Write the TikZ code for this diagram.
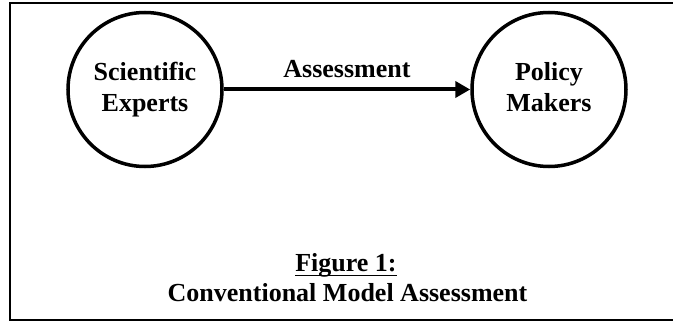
\documentclass[tikz,border=0pt]{standalone}
\usepackage{fontspec}
\setmainfont{Liberation Serif}
\usetikzlibrary{arrows.meta}
\begin{document}
\begin{tikzpicture}[x=1pt,y=-1pt,
  lbl/.style={font={\bfseries\fontsize{26}{31}\selectfont}},
  actor/.style={circle, draw, line width=3.5pt, minimum size=154pt, inner sep=0pt, align=center, lbl},
  flow/.style={line width=4pt, -{Triangle[length=15pt,width=16pt]}}]
\useasboundingbox (0,0) rectangle (673,321);
\fill[white] (0,0) rectangle (673,321);
\draw[line width=2pt] (10,3.5) rectangle (690,320);
\node[actor] (se) at (145,89.5) {Scientific\\Experts};
\node[actor] (pm) at (549,89.5) {Policy\\Makers\vphantom{p}};
\draw[flow] (se.east) -- (pm.west);
\node[lbl, anchor=base, inner sep=0pt] (as) at (347,78) {Assessment};
\node[lbl, anchor=base, inner sep=0pt] (fig) at (346,271) {Figure 1:};
\draw[line width=1.8pt] ([yshift=-4.5pt]fig.base west) -- ([yshift=-4.5pt]fig.base east);
\node[lbl, anchor=base, inner sep=0pt] (cap) at (347.5,301.5) {Conventional Model Assessment};
\end{tikzpicture}
\end{document}
